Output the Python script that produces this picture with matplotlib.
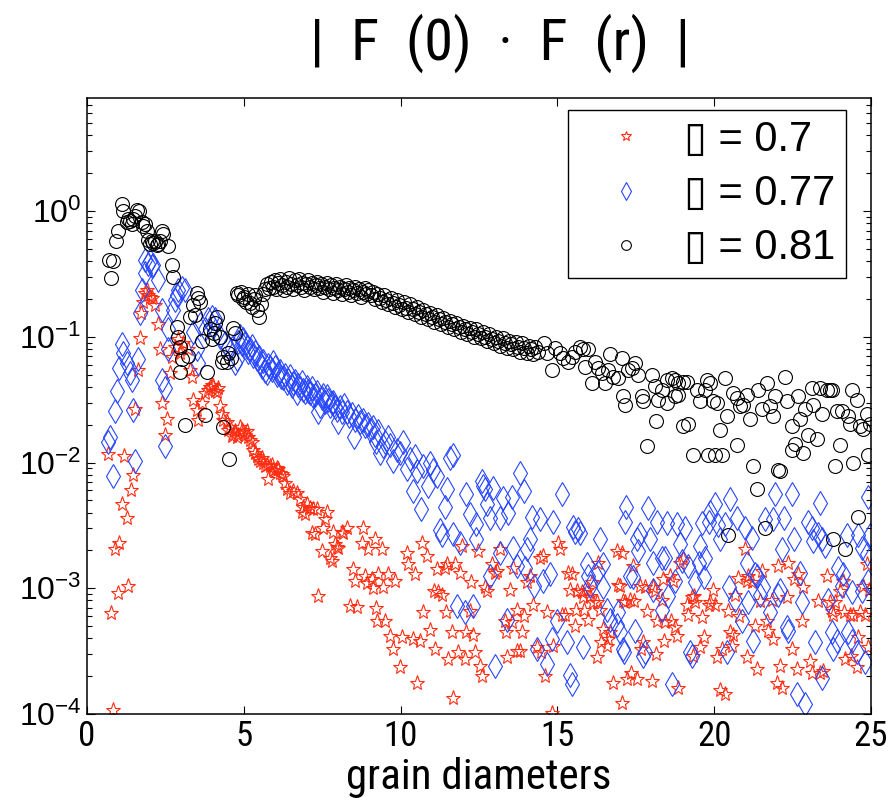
import numpy as np
import matplotlib
matplotlib.use("Agg")
import matplotlib.pyplot as plt
from matplotlib.ticker import LogLocator, LogFormatterMathtext

# Positions (grain diameters) and log10 of |F(0).F(r)|
r_07 = [0.68, 0.75, 0.82, 0.89, 0.98, 1.03, 1.11, 1.19, 1.27, 1.32,
        1.39, 1.46, 1.53, 1.64, 1.69, 1.72, 1.80, 1.85, 1.90, 1.96,
        2.01, 2.06, 2.17, 2.27, 2.33, 2.38, 2.49, 2.54, 2.65, 2.70,
        2.81, 2.91, 2.97, 3.07, 3.23, 3.28, 3.34, 3.39, 3.50, 3.55,
        3.66, 3.76, 3.87, 3.92, 3.98, 4.03, 4.08, 4.13, 4.19, 4.24,
        4.29, 4.35, 4.45, 4.50, 4.56, 4.61, 4.66, 4.72, 4.77, 4.82,
        4.88, 4.93, 4.98, 5.04, 5.09, 5.14, 5.20, 5.25, 5.30, 5.36,
        5.41, 5.46, 5.52, 5.57, 5.62, 5.68, 5.73, 5.78, 5.84, 5.89,
        5.94, 6.00, 6.05, 6.10, 6.15, 6.21, 6.26, 6.31, 6.37, 6.47,
        6.58, 6.69, 6.79, 6.84, 6.90, 6.95, 7.00, 7.11, 7.16, 7.22,
        7.27, 7.32, 7.38, 7.48, 7.54, 7.59, 7.64, 7.75, 7.80, 7.85,
        7.90, 7.96, 8.01, 8.12, 8.17, 8.28, 8.39, 8.49, 8.55, 8.60,
        8.76, 8.81, 8.86, 8.92, 8.97, 9.08, 9.13, 9.18, 9.20, 9.24,
        9.29, 9.40, 9.45, 9.50, 9.61, 9.66, 9.77, 9.82, 9.98, 10.03,
        10.19, 10.24, 10.40, 10.45, 10.51, 10.61, 10.67, 10.72, 10.83, 10.94,
        11.05, 11.10, 11.15, 11.20, 11.31, 11.41, 11.44, 11.47, 11.52, 11.63,
        11.68, 11.74, 11.84, 11.89, 11.95, 12.05, 12.10, 12.21, 12.26, 12.32,
        12.37, 12.48, 12.53, 12.58, 12.69, 12.74, 12.90, 13.01, 13.06, 13.17,
        13.33, 13.36, 13.38, 13.49, 13.54, 13.60, 13.70, 13.72, 13.81, 13.86,
        13.92, 14.02, 14.13, 14.23, 14.34, 14.45, 14.47, 14.55, 14.61, 14.66,
        14.82, 14.87, 15.03, 15.08, 15.14, 15.24, 15.35, 15.40, 15.46, 15.56,
        15.58, 15.61, 15.77, 15.83, 15.85, 15.93, 15.99, 16.04, 16.09, 16.15,
        16.25, 16.27, 16.31, 16.36, 16.38, 16.47, 16.57, 16.62, 16.68, 16.78,
        16.89, 16.94, 17.00, 17.05, 17.06, 17.10, 17.15, 17.21, 17.32, 17.34,
        17.42, 17.45, 17.53, 17.64, 17.66, 17.74, 17.80, 17.85, 18.01, 18.06,
        18.12, 18.14, 18.17, 18.33, 18.38, 18.40, 18.44, 18.60, 18.62, 18.70,
        18.75, 18.81, 18.86, 18.92, 19.02, 19.13, 19.18, 19.29, 19.31, 19.34,
        19.39, 19.55, 19.60, 19.66, 19.82, 19.87, 19.97, 20.03, 20.08, 20.19,
        20.24, 20.35, 20.45, 20.51, 20.56, 20.61, 20.67, 20.77, 20.79, 20.99,
        21.04, 21.06, 21.09, 21.20, 21.31, 21.36, 21.47, 21.52, 21.68, 21.73,
        21.84, 21.89, 22.00, 22.05, 22.10, 22.15, 22.31, 22.36, 22.47, 22.53,
        22.63, 22.68, 22.79, 22.84, 23.06, 23.11, 23.32, 23.37, 23.48, 23.59,
        23.69, 23.75, 23.80, 23.85, 24.01, 24.12, 24.14, 24.17, 24.33, 24.35,
        24.44, 24.55, 24.60, 24.65, 24.76, 24.81, 24.87, 24.92, 24.94]
logc_07 = [-1.93, -3.20, -3.97, -2.69, -3.04, -2.64, -2.33, -1.95, -2.44, -2.98,
           -2.22, -2.10, -1.57, -1.26, -1.01, -0.81, -0.72, -0.65, -0.63, -0.67,
           -0.68, -0.69, -0.75, -0.90, -1.10, -1.53, -1.78, -1.65, -1.29, -1.16,
           -1.08, -1.02, -1.13, -1.05, -1.10, -1.26, -1.32, -1.50, -1.58, -1.66,
           -1.53, -1.45, -1.42, -1.40, -1.38, -1.39, -1.43, -1.44, -1.41, -1.55,
           -1.61, -1.66, -1.68, -1.74, -1.72, -1.79, -1.77, -1.75, -1.80, -1.78,
           -1.72, -1.74, -1.76, -1.78, -1.75, -1.80, -1.82, -1.84, -1.90, -1.92,
           -1.95, -1.97, -1.99, -1.96, -2.00, -2.03, -2.02, -2.13, -2.03, -2.02,
           -2.06, -2.07, -2.04, -2.05, -2.08, -2.09, -2.11, -2.16, -2.21, -2.24,
           -2.23, -2.24, -2.29, -2.39, -2.35, -2.41, -2.33, -2.36, -2.56, -2.37,
           -2.57, -2.37, -3.06, -2.70, -2.52, -2.45, -2.39, -2.76, -2.78, -2.55,
           -2.65, -2.67, -2.68, -2.55, -2.56, -2.52, -3.14, -2.85, -2.94, -3.15,
           -2.64, -2.52, -2.90, -2.96, -2.69, -2.93, -3.00, -2.61, -3.16, -3.26,
           -2.89, -2.69, -2.99, -3.26, -2.89, -3.38, -3.48, -2.94, -3.63, -3.39,
           -2.72, -2.81, -3.40, -2.89, -3.75, -3.42, -2.64, -3.19, -2.74, -3.33,
           -3.02, -3.48, -2.85, -3.03, -3.05, -2.84, -3.19, -2.81, -3.56, -3.35,
           -3.87, -2.81, -3.51, -2.88, -2.66, -3.56, -3.35, -3.18, -2.95, -3.37,
           -3.51, -2.70, -3.62, -3.70, -2.99, -3.02, -2.81, -2.88, -2.86, -2.69,
           -3.26, -3.35, -3.55, -3.01, -3.27, -2.84, -3.17, -3.50, -3.50, -3.35,
           -3.22, -2.95, -2.90, -3.13, -3.47, -2.76, -3.51, -2.74, -3.70, -3.19,
           -3.99, -3.46, -2.64, -2.69, -3.21, -3.21, -2.88, -3.01, -2.89, -3.30,
           -3.17, -3.02, -3.03, -3.07, -3.17, -3.01, -3.25, -3.06, -2.95, -3.11,
           -3.11, -3.55, -2.80, -3.17, -3.43, -3.32, -3.46, -3.40, -3.35, -3.75,
           -2.70, -2.97, -2.98, -2.72, -3.91, -3.10, -3.11, -3.72, -3.09, -3.67,
           -2.82, -3.10, -3.72, -2.98, -3.48, -3.43, -2.99, -3.18, -3.74, -2.99,
           -3.02, -3.52, -3.26, -3.09, -2.93, -3.42, -3.27, -2.90, -3.26, -2.94,
           -3.31, -3.38, -3.79, -2.80, -2.77, -3.13, -3.21, -3.07, -3.54, -3.06,
           -3.11, -3.47, -3.23, -3.39, -3.13, -3.11, -3.01, -3.13, -3.55, -3.81,
           -3.48, -3.84, -3.18, -3.35, -3.46, -3.37, -3.05, -2.92, -3.22, -2.69,
           -2.94, -3.55, -2.90, -2.95, -3.30, -3.64, -3.10, -2.86, -3.26, -3.34,
           -3.09, -3.40, -3.75, -2.82, -3.62, -3.79, -3.07, -2.80, -3.48, -2.93,
           -3.64, -2.89, -3.26, -2.99, -3.58, -3.67, -3.10, -3.67, -3.66, -2.90,
           -3.11, -3.18, -3.21, -3.11, -3.02, -2.94, -3.19, -3.56, -3.21, -3.54,
           -3.21, -3.63, -3.39, -3.19, -2.98, -3.21, -2.81, -3.47, -3.01]

r_077 = [0.68, 0.73, 0.84, 0.89, 0.97, 1.03, 1.11, 1.16, 1.27, 1.37,
         1.42, 1.48, 1.53, 1.64, 1.69, 1.74, 1.85, 1.85, 1.96, 2.01,
         2.06, 2.12, 2.27, 2.38, 2.38, 2.49, 2.49, 2.59, 2.59, 2.75,
         2.81, 2.86, 2.91, 3.02, 3.13, 3.39, 3.50, 3.55, 3.60, 3.76,
         3.87, 3.98, 4.03, 4.08, 4.24, 4.40, 4.51, 4.62, 4.72, 4.77,
         4.82, 4.88, 4.93, 4.98, 5.03, 5.09, 5.14, 5.20, 5.25, 5.30,
         5.36, 5.41, 5.47, 5.52, 5.57, 5.62, 5.68, 5.73, 5.78, 5.84,
         5.89, 5.94, 6.00, 6.05, 6.10, 6.15, 6.20, 6.26, 6.31, 6.37,
         6.42, 6.47, 6.53, 6.58, 6.63, 6.69, 6.74, 6.80, 6.85, 6.90,
         6.95, 7.01, 7.06, 7.11, 7.17, 7.22, 7.27, 7.33, 7.38, 7.43,
         7.48, 7.54, 7.59, 7.64, 7.70, 7.75, 7.80, 7.85, 7.91, 7.96,
         8.01, 8.07, 8.12, 8.18, 8.28, 8.34, 8.44, 8.50, 8.55, 8.65,
         8.71, 8.81, 8.87, 8.97, 9.03, 9.13, 9.18, 9.23, 9.29, 9.34,
         9.45, 9.50, 9.61, 9.66, 9.76, 9.87, 9.98, 10.09, 10.19, 10.29,
         10.40, 10.45, 10.51, 10.66, 10.72, 10.88, 10.94, 11.04, 11.15, 11.26,
         11.31, 11.41, 11.47, 11.58, 11.68, 11.68, 11.79, 11.89, 12.05, 12.10,
         12.21, 12.32, 12.42, 12.42, 12.58, 12.64, 12.69, 12.74, 12.85, 12.85,
         12.96, 13.01, 13.17, 13.17, 13.28, 13.39, 13.44, 13.55, 13.60, 13.70,
         13.81, 13.92, 13.97, 14.03, 14.13, 14.18, 14.24, 14.34, 14.45, 14.55,
         14.66, 14.76, 14.82, 14.87, 14.98, 15.14, 15.30, 15.40, 15.46, 15.51,
         15.56, 15.67, 15.72, 15.83, 15.93, 15.99, 16.04, 16.31, 16.36, 16.47,
         16.47, 16.57, 16.68, 16.89, 16.94, 17.00, 17.10, 17.11, 17.15, 17.20,
         17.31, 17.42, 17.48, 17.53, 17.58, 17.64, 17.74, 17.80, 17.90, 17.96,
         18.06, 18.06, 18.17, 18.33, 18.33, 18.44, 18.49, 18.54, 18.65, 18.75,
         18.81, 18.92, 18.97, 19.07, 19.18, 19.23, 19.29, 19.39, 19.50, 19.55,
         19.60, 19.66, 19.71, 19.82, 19.87, 20.03, 20.13, 20.19, 20.35, 20.40,
         20.46, 20.51, 20.67, 20.72, 20.88, 20.99, 21.04, 21.09, 21.20, 21.25,
         21.31, 21.36, 21.47, 21.57, 21.62, 21.78, 21.89, 21.94, 22.05, 22.10,
         22.15, 22.21, 22.31, 22.36, 22.47, 22.53, 22.63, 22.74, 22.79, 22.90,
         23.00, 23.11, 23.16, 23.21, 23.32, 23.37, 23.43, 23.43, 23.53, 23.64,
         23.75, 23.80, 23.91, 23.96, 24.07, 24.12, 24.23, 24.28, 24.39, 24.39,
         24.55, 24.60, 24.71, 24.71, 24.81, 24.87, 24.92, 24.92, 24.97]
logc_077 = [-1.84, -1.80, -2.11, -1.59, -1.43, -1.25, -1.06, -1.13, -1.21, -1.29,
            -1.34, -1.58, -1.99, -1.18, -0.81, -0.63, -0.49, -0.39, -0.42, -0.40,
            -0.44, -0.43, -0.55, -0.79, -1.34, -1.41, -1.87, -0.94, -1.10, -0.79,
            -0.71, -0.67, -0.63, -0.61, -0.63, -0.96, -1.10, -1.21, -0.90, -0.94,
            -0.86, -0.84, -0.92, -0.86, -1.00, -1.05, -1.08, -1.09, -1.21, -1.18,
            -1.04, -0.99, -1.06, -1.02, -1.05, -1.08, -1.12, -1.10, -1.07, -1.15,
            -1.12, -1.18, -1.16, -1.21, -1.24, -1.19, -1.27, -1.29, -1.22, -1.24,
            -1.26, -1.20, -1.24, -1.30, -1.29, -1.27, -1.32, -1.33, -1.30, -1.37,
            -1.34, -1.31, -1.39, -1.37, -1.35, -1.45, -1.38, -1.41, -1.36, -1.42,
            -1.44, -1.40, -1.43, -1.45, -1.41, -1.47, -1.46, -1.44, -1.60, -1.55,
            -1.49, -1.46, -1.52, -1.47, -1.50, -1.55, -1.53, -1.52, -1.56, -1.58,
            -1.68, -1.56, -1.60, -1.54, -1.60, -1.63, -1.61, -1.80, -1.66, -1.63,
            -1.68, -1.66, -1.71, -1.69, -1.74, -1.72, -1.78, -1.84, -1.75, -1.92,
            -1.87, -1.84, -1.80, -1.86, -1.99, -1.90, -1.92, -1.84, -2.05, -1.97,
            -2.23, -1.95, -2.07, -2.37, -2.03, -2.19, -2.00, -2.06, -2.11, -2.54,
            -2.58, -2.35, -2.21, -1.96, -1.94, -2.57, -3.14, -2.64, -3.19, -2.25,
            -2.41, -3.14, -2.49, -2.61, -2.15, -2.19, -2.21, -2.33, -2.44, -2.90,
            -2.20, -3.62, -2.44, -2.72, -2.28, -3.25, -2.40, -2.27, -2.68, -2.82,
            -2.08, -2.23, -2.84, -2.69, -2.61, -2.43, -2.98, -3.48, -2.45, -2.94,
            -3.60, -2.89, -3.40, -2.47, -3.26, -2.25, -3.43, -3.69, -3.76, -2.51,
            -2.55, -2.53, -2.56, -3.47, -2.81, -2.90, -2.98, -2.87, -2.61, -2.81,
            -2.99, -3.17, -3.25, -3.29, -3.19, -3.35, -3.48, -3.51, -2.47, -2.35,
            -2.90, -2.91, -3.34, -2.61, -2.70, -2.57, -3.54, -3.51, -2.36, -2.61,
            -2.80, -3.01, -2.47, -2.76, -3.17, -2.76, -2.48, -3.06, -3.76, -2.94,
            -2.49, -2.65, -2.78, -2.52, -2.82, -3.51, -3.54, -2.95, -2.80, -2.66,
            -2.48, -2.91, -2.76, -2.47, -2.39, -2.33, -2.50, -2.61, -2.49, -3.51,
            -2.99, -2.29, -3.09, -2.44, -3.26, -2.52, -2.80, -3.11, -2.60, -3.42,
            -2.89, -2.90, -3.05, -2.99, -2.45, -3.19, -2.45, -2.25, -3.05, -3.01,
            -2.69, -2.44, -3.31, -3.34, -2.25, -2.61, -3.84, -2.88, -3.11, -3.92,
            -2.47, -2.52, -2.62, -3.43, -2.57, -2.32, -2.61, -3.71, -2.66, -3.09,
            -3.35, -3.48, -3.42, -2.84, -2.98, -2.89, -2.58, -3.35, -3.42, -3.03,
            -3.51, -2.58, -2.68, -3.02, -3.59, -2.73, -2.94, -2.27, -2.58]

r_081 = [0.71, 0.75, 0.84, 0.91, 0.98, 1.13, 1.16, 1.26, 1.32, 1.37,
         1.43, 1.48, 1.53, 1.58, 1.67, 1.74, 1.80, 1.85, 1.90, 1.96,
         2.02, 2.06, 2.12, 2.17, 2.22, 2.27, 2.33, 2.38, 2.43, 2.59,
         2.70, 2.75, 2.86, 2.91, 2.97, 2.97, 3.02, 3.12, 3.23, 3.28,
         3.39, 3.44, 3.50, 3.55, 3.60, 3.66, 3.76, 3.82, 3.92, 3.98,
         4.04, 4.08, 4.14, 4.24, 4.29, 4.34, 4.35, 4.45, 4.50, 4.54,
         4.60, 4.67, 4.72,
         4.77, 4.83, 4.90, 4.96, 5.02, 5.08, 5.14, 5.20, 5.26, 5.31,
         5.37, 5.43, 5.50, 5.55, 5.61, 5.68, 5.74, 5.80, 5.86,
         5.92, 5.98, 6.03, 6.09, 6.15, 6.21, 6.27, 6.33, 6.39, 6.45,
         6.51, 6.57, 6.63, 6.69, 6.75, 6.81, 6.87, 6.93, 6.99, 7.05,
         7.11, 7.17, 7.23, 7.29, 7.35, 7.41, 7.47, 7.53, 7.59, 7.65,
         7.71, 7.77, 7.83, 7.89, 7.95, 8.01, 8.07, 8.13, 8.19, 8.25,
         8.31, 8.37, 8.43, 8.49, 8.55, 8.61, 8.67, 8.73, 8.79, 8.85,
         8.91, 8.97,
         9.05, 9.12, 9.19, 9.26, 9.33, 9.40, 9.47, 9.54, 9.61, 9.68,
         9.75, 9.82, 9.89, 9.96, 10.03, 10.10, 10.17, 10.24, 10.31, 10.38,
         10.45, 10.52, 10.59, 10.66, 10.73, 10.80, 10.87, 10.94, 11.01, 11.08,
         11.15, 11.22, 11.29, 11.36, 11.43, 11.50, 11.57, 11.64, 11.71, 11.78,
         11.85, 11.92, 11.99, 12.06, 12.13, 12.20, 12.27, 12.34, 12.41, 12.48,
         12.55, 12.62, 12.69, 12.76, 12.83, 12.90, 12.97, 13.04, 13.11, 13.18,
         13.25, 13.32, 13.39, 13.46, 13.53, 13.60, 13.67, 13.74, 13.81, 13.88,
         13.95, 14.02, 14.09, 14.16, 14.23, 14.30, 14.37,
         14.56, 14.66, 14.82, 14.93, 15.09, 15.19, 15.35, 15.46, 15.56, 15.72,
         15.83, 15.99, 15.88, 16.09, 16.20, 16.31, 16.41, 16.52, 16.68, 16.62,
         16.78, 16.94, 17.05, 17.10, 17.15, 17.26, 17.37, 17.47, 17.58, 17.69,
         17.74, 17.85, 18.01, 18.11, 18.22, 18.16, 18.32, 18.48, 18.64, 18.75,
         18.86, 19.01, 19.12, 18.48, 18.75, 18.86, 19.01, 19.17, 19.33, 19.44,
         19.54, 19.70, 19.76, 19.86, 19.97, 20.08, 19.81, 20.02, 20.24, 20.18,
         20.34, 20.40, 20.61, 20.72, 20.83, 20.93, 21.04, 21.15, 20.74, 21.25,
         21.41, 21.52, 21.68, 21.78, 21.89, 21.94, 22.05, 22.10, 22.26, 22.31,
         22.47, 22.58, 22.68, 22.74, 22.84, 22.47, 22.90, 23.00, 23.11, 23.16,
         23.27, 23.43, 23.38, 23.59, 23.70, 23.75, 23.86, 23.91, 24.01, 24.07,
         24.28, 24.33, 24.39, 24.44, 24.54, 24.65, 24.76, 24.86, 24.92, 24.97,
         21.38, 24.60, 23.80, 24.17, 21.62, 20.45]
logc_081 = [-0.39, -0.53, -0.40, -0.24, -0.16, 0.06, 0.00, -0.085, -0.06, -0.077,
            -0.10, -0.066, -0.04, 0.008, 0.0, -0.085, -0.12, -0.10, -0.16, -0.23,
            -0.26, -0.24, -0.25, -0.24, -0.27, -0.26, -0.24, -0.16, -0.18, -0.28,
            -0.43, -0.52, -0.92, -1.00, -1.08, -1.28, -1.18, -1.70, -1.15, -0.84,
            -0.75, -0.83, -0.65, -0.69, -0.72, -1.03, -1.62, -1.28, -0.94, -1.02,
            -0.97, -0.89, -0.84, -1.00, -1.20, -1.72, -1.16, -1.20, -1.13, -1.97,
            -1.17, -0.93, -0.97,
            -0.65, -0.67, -0.64, -0.70, -0.68, -0.72, -0.66, -0.73, -0.76, -0.70,
            -0.67, -0.79, -0.84, -0.74, -0.66, -0.62, -0.58, -0.61, -0.56,
            -0.60, -0.55, -0.62, -0.57, -0.54, -0.59, -0.63, -0.56, -0.60, -0.53,
            -0.58, -0.62, -0.55, -0.59, -0.54, -0.60, -0.57, -0.63, -0.58, -0.55,
            -0.60, -0.57, -0.62, -0.59, -0.56, -0.61, -0.58, -0.64, -0.60, -0.57,
            -0.62, -0.59, -0.65, -0.61, -0.58, -0.63, -0.60, -0.66, -0.62, -0.59,
            -0.64, -0.61, -0.67, -0.63, -0.60, -0.65, -0.62, -0.68, -0.64, -0.61,
            -0.66, -0.63,
            -0.67, -0.64, -0.70, -0.66, -0.69, -0.72, -0.67, -0.71, -0.74, -0.69,
            -0.73, -0.76, -0.71, -0.75, -0.78, -0.72, -0.77, -0.80, -0.74, -0.78,
            -0.82, -0.76, -0.80, -0.84, -0.79, -0.82, -0.86, -0.81, -0.84, -0.88,
            -0.83, -0.86, -0.90, -0.85, -0.88, -0.92, -0.87, -0.90, -0.94, -0.89,
            -0.92, -0.96, -0.91, -0.94, -0.98, -0.93, -0.96, -1.00, -0.94, -0.98,
            -1.01, -0.96, -1.00, -1.03, -0.98, -1.02, -1.05, -1.00, -1.03, -1.07,
            -1.01, -1.05, -1.09, -1.03, -1.06, -1.10, -1.04, -1.08, -1.12, -1.05,
            -1.09, -1.13, -1.07, -1.10, -1.14, -1.08, -1.12,
            -1.05, -1.13, -1.26, -1.09, -1.13, -1.17, -1.20, -1.16, -1.12, -1.08,
            -1.10, -1.10, -1.24, -1.37, -1.20, -1.25, -1.29, -1.37, -1.14, -1.26,
            -1.32, -1.33, -1.17, -1.47, -1.54, -1.26, -1.25, -1.21, -1.30, -1.47,
            -1.51, -1.87, -1.30, -1.39, -1.50, -1.67, -1.42, -1.34, -1.33, -1.34,
            -1.37, -1.36, -1.36, -1.53, -1.47, -1.46, -1.71, -1.69, -1.94, -1.42,
            -1.51, -1.42, -1.34, -1.37, -1.51, -1.53, -1.94, -1.94, -1.94, -1.74,
            -1.33, -1.63, -1.45, -1.49, -1.55, -1.54, -1.46, -1.65, -1.86, -2.03,
            -1.42, -1.57, -1.37, -1.55, -1.63, -1.47, -2.06, -2.07, -1.32, -1.51,
            -1.71, -1.85, -1.47, -1.65, -1.92, -1.90, -1.57, -1.78, -1.41, -1.54,
            -1.81, -1.61, -1.41, -1.42, -1.42, -1.42, -2.03, -1.59, -1.86, -1.59,
            -1.63, -1.69, -1.42, -2.00, -1.50, -1.71, -1.73, -1.61, -1.94, -1.69,
            -2.21, -2.43, -2.61, -2.69, -2.52, -2.58]

phi_labels = ['\u25af = 0.7', '\u25af = 0.77', '\u25af = 0.81']
x_ticks = [0, 5, 10, 15, 20, 25]

plt.rcParams['font.family'] = ['Liberation Sans', 'DejaVu Sans']
plt.rcParams['mathtext.fontset'] = 'custom'
plt.rcParams['mathtext.rm'] = 'Liberation Sans'
plt.rcParams['mathtext.default'] = 'regular'
narrow = ['Roboto Condensed', 'Liberation Sans', 'DejaVu Sans']

fig = plt.figure(figsize=(8.92, 7.98), dpi=100)
ax = fig.add_axes([87 / 892, 1 - 714 / 798, 784 / 892, 616 / 798])

# the three packing fractions, in legend order
ax.plot(r_07, 10 ** np.array(logc_07), linestyle='none', marker='*', ms=11,
        mfc='none', mec='#ff2d12', mew=0.8, label=phi_labels[0])
ax.plot(r_077, 10 ** np.array(logc_077), linestyle='none', marker='d', ms=12.5,
        mfc='none', mec='#2646ff', mew=0.8, label=phi_labels[1])
ax.plot(r_081, 10 ** np.array(logc_081), linestyle='none', marker='o', ms=10,
        mfc='none', mec='black', mew=0.8, label=phi_labels[2])

ax.set_yscale('log')
ax.set_xlim(0, 25)
ax.set_ylim(1e-4, 10 ** 0.9)
ax.set_xticks(x_ticks)
ax.yaxis.set_major_locator(LogLocator(base=10, numticks=10))
ax.yaxis.set_minor_locator(LogLocator(base=10, subs=np.arange(2, 10), numticks=20))
ax.yaxis.set_major_formatter(LogFormatterMathtext())

ax.tick_params(which='both', direction='in', top=True, right=True, width=0.8)
ax.tick_params(which='major', length=6)
ax.tick_params(which='minor', length=3.5)
ax.tick_params(axis='x', labelsize=25, pad=4)
ax.tick_params(axis='y', labelsize=23, pad=4)
for lab in ax.get_xticklabels():
    lab.set_family(narrow)
for sp in ax.spines.values():
    sp.set_linewidth(1.1)

# axis label and title placed by hand, like the original export
fig.text(479 / 892, 0.5 / 798, 'grain diameters', ha='center',
         va='bottom', fontsize=31, family=narrow)
fig.text(500 / 892, 1 - 60 / 798, '|  F  (0)  \u00b7  F  (r)  |', ha='center',
         va='baseline', fontsize=42, family=narrow)

leg = ax.legend(loc='upper left', bbox_to_anchor=(568 / 892, 1 - 110 / 798),
                bbox_transform=fig.transFigure, borderaxespad=0, fontsize=30,
                fancybox=False, framealpha=1, edgecolor='black', numpoints=1,
                markerscale=0.7, handlelength=2.3, handletextpad=0.25,
                borderpad=0.24, labelspacing=0.34)
leg.get_frame().set_linewidth(1.0)

fig.savefig('out.png', dpi=100)
